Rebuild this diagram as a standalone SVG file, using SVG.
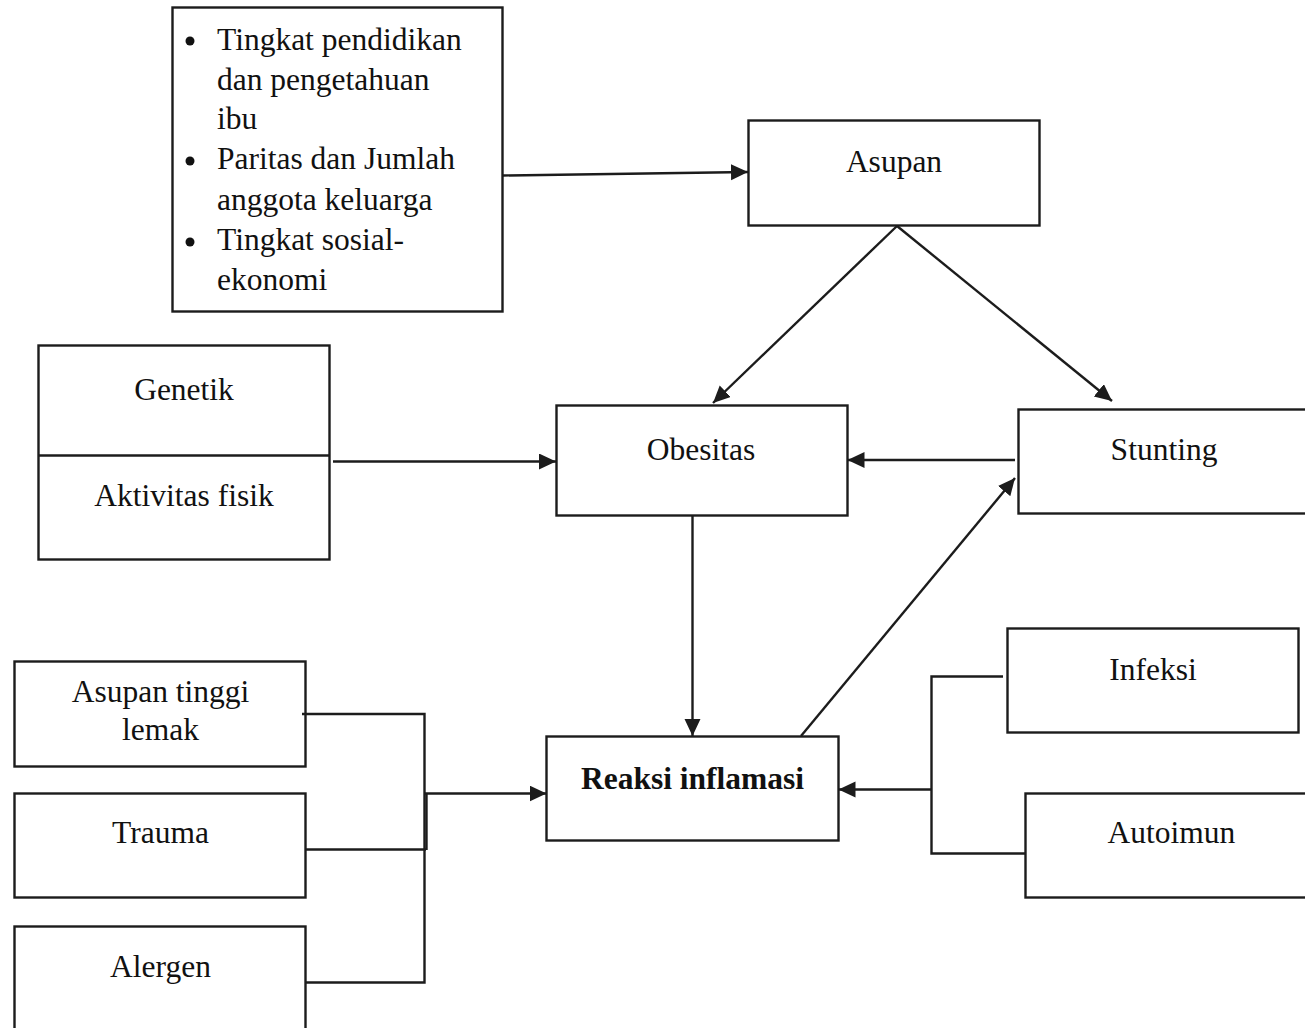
<svg xmlns="http://www.w3.org/2000/svg" width="1305" height="1028" viewBox="0 0 1305 1028">
<style>
.box{fill:#fff;stroke:#1c1c1c;stroke-width:2.4}
.t{font-family:"Liberation Serif","Times New Roman",serif;font-size:31.5px;fill:#111}
.c{text-anchor:middle}
.b{font-weight:bold}
.ln{fill:none;stroke:#1c1c1c;stroke-width:2.4}
.ar{fill:none;stroke:#1c1c1c;stroke-width:2.4;marker-end:url(#ah)}
</style>
<defs>
<marker id="ah" markerUnits="userSpaceOnUse" markerWidth="19" markerHeight="17" refX="17" refY="8" orient="auto">
<path d="M0,0 L17,8 L0,16 z" fill="#1c1c1c"/>
</marker>
</defs>
<rect width="1305" height="1028" fill="#fff"/>
<g id="faktor-ibu">
<rect class="box" x="172.5" y="7.5" width="330" height="304"/>
<circle cx="190" cy="41" r="4.5" fill="#111"/>
<circle cx="190" cy="161" r="4.5" fill="#111"/>
<circle cx="190" cy="242" r="4.5" fill="#111"/>
<text class="t" x="217" y="50">Tingkat pendidikan</text>
<text class="t" x="217" y="90">dan pengetahuan</text>
<text class="t" x="217" y="129">ibu</text>
<text class="t" x="217" y="169">Paritas dan Jumlah</text>
<text class="t" x="217" y="210">anggota keluarga</text>
<text class="t" x="217" y="250">Tingkat sosial-</text>
<text class="t" x="217" y="290">ekonomi</text>
</g>
<g id="asupan">
<rect class="box" x="748.5" y="120.5" width="291" height="105"/>
<text class="t c" x="894" y="172">Asupan</text>
</g>
<g id="genetik-aktivitas">
<rect class="box" x="38.5" y="345.5" width="291" height="214"/>
<line class="ln" x1="38.5" y1="455.5" x2="329.5" y2="455.5"/>
<text class="t c" x="184" y="400">Genetik</text>
<text class="t c" x="184" y="506">Aktivitas fisik</text>
</g>
<g id="obesitas">
<rect class="box" x="556.5" y="405.5" width="291" height="110"/>
<text class="t c" x="701" y="460">Obesitas</text>
</g>
<g id="stunting">
<rect class="box" x="1018.5" y="409.5" width="300" height="104"/>
<text class="t c" x="1164" y="460">Stunting</text>
</g>
<g id="reaksi-inflamasi">
<rect class="box" x="546.5" y="736.5" width="292" height="104"/>
<text class="t c b" x="692.5" y="789">Reaksi inflamasi</text>
</g>
<g id="asupan-tinggi-lemak">
<rect class="box" x="14.5" y="661.5" width="291" height="105"/>
<text class="t c" x="160.5" y="702">Asupan tinggi</text>
<text class="t c" x="160.5" y="740">lemak</text>
</g>
<g id="trauma">
<rect class="box" x="14.5" y="793.5" width="291" height="104"/>
<text class="t c" x="160.5" y="843">Trauma</text>
</g>
<g id="alergen">
<rect class="box" x="14.5" y="926.5" width="291" height="120"/>
<text class="t c" x="160.5" y="977">Alergen</text>
</g>
<g id="infeksi">
<rect class="box" x="1007.5" y="628.5" width="291" height="104"/>
<text class="t c" x="1153" y="680">Infeksi</text>
</g>
<g id="autoimun">
<rect class="box" x="1025.5" y="793.5" width="300" height="104"/>
<text class="t c" x="1171.5" y="843">Autoimun</text>
</g>
<g id="connectors">
<line class="ar" x1="503" y1="175.5" x2="748" y2="172"/>
<line class="ar" x1="897" y1="226" x2="713" y2="403"/>
<line class="ar" x1="897" y1="226" x2="1112" y2="401"/>
<line class="ar" x1="333" y1="461.5" x2="556" y2="461.5"/>
<line class="ar" x1="1015" y1="460" x2="847.5" y2="460"/>
<line class="ar" x1="692.5" y1="516" x2="692.5" y2="736"/>
<line class="ar" x1="801" y1="736" x2="1015" y2="478"/>
<polyline class="ln" points="302,714 424.5,714 424.5,982.5 306,982.5"/>
<line class="ln" x1="306" y1="849.5" x2="426" y2="849.5"/>
<line class="ln" x1="426.5" y1="793" x2="426.5" y2="850"/>
<line class="ar" x1="424.5" y1="793.5" x2="546.5" y2="793.5"/>
<polyline class="ln" points="1003,676.5 931.5,676.5 931.5,853.5 1025.5,853.5"/>
<line class="ar" x1="931.5" y1="789.5" x2="838.5" y2="789.5"/>
</g>
</svg>
